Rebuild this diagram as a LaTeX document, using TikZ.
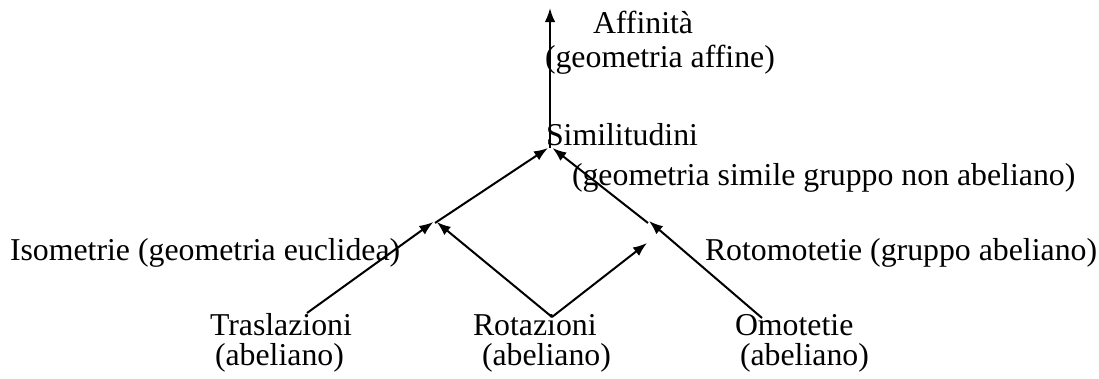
\documentclass[tikz,border=0pt]{standalone}
\usepackage{fontspec}
\setmainfont{Liberation Serif}
\usetikzlibrary{arrows.meta}
\tikzset{
  lbl/.style={anchor=base west, inner sep=0pt, outer sep=0pt,
    font=\fontsize{31.8}{34}\selectfont},
  link/.style={line width=2pt},
  arr/.style={link, -{Latex[length=14pt,width=10.5pt]}}
}
\begin{document}
\begin{tikzpicture}[x=1pt,y=-1pt]
\useasboundingbox (0,0) rectangle (1099,378);

% labels
\node[lbl] (aff)  at (593,33)  {Affinità};
\node[lbl] (affg) at (545,67)  {(geometria affine)};
\node[lbl] (sim)  at (546,145) {Similitudini};
\node[lbl] (simg) at (572,185) {(geometria simile gruppo non abeliano)};
\node[lbl] (iso)  at (10,260)  {Isometrie (geometria euclidea)};
\node[lbl] (roto) at (705,260) {Rotomotetie (gruppo abeliano)};
\node[lbl] (tra)  at (210,335) {Traslazioni};
\node[lbl] (trag) at (215,365) {(abeliano)};
\node[lbl] (rot)  at (473,335) {Rotazioni};
\node[lbl] (rotg) at (482,365) {(abeliano)};
\node[lbl] (omo)  at (735,335) {Omotetie};
\node[lbl] (omog) at (740,365) {(abeliano)};

% junction points of the lattice
\coordinate (top)  at (550,8);
\coordinate (sJ)   at (550,148);
\coordinate (isoJ) at (435,223);
\coordinate (rotJ) at (648,223);
\coordinate (rotT) at (647,243);
\coordinate (traS) at (307,313);
\coordinate (rotS) at (552,317);
\coordinate (omoS) at (762,318);

% connectors
\draw[arr] (sJ) -- (top);
\draw[arr] (isoJ) -- ([xshift=-2pt]sJ);
\draw[arr] (rotJ) -- ([xshift=2.5pt]sJ);
\draw[arr] (traS) -- ([xshift=-1.7pt,yshift=1pt]isoJ);
\draw[arr] (rotS) -- ([xshift=1.7pt,yshift=1pt]isoJ);
\draw[arr] (rotS) -- (rotT);
\draw[arr] (omoS) -- ([xshift=1pt,yshift=2pt]rotJ);
\end{tikzpicture}
\end{document}
